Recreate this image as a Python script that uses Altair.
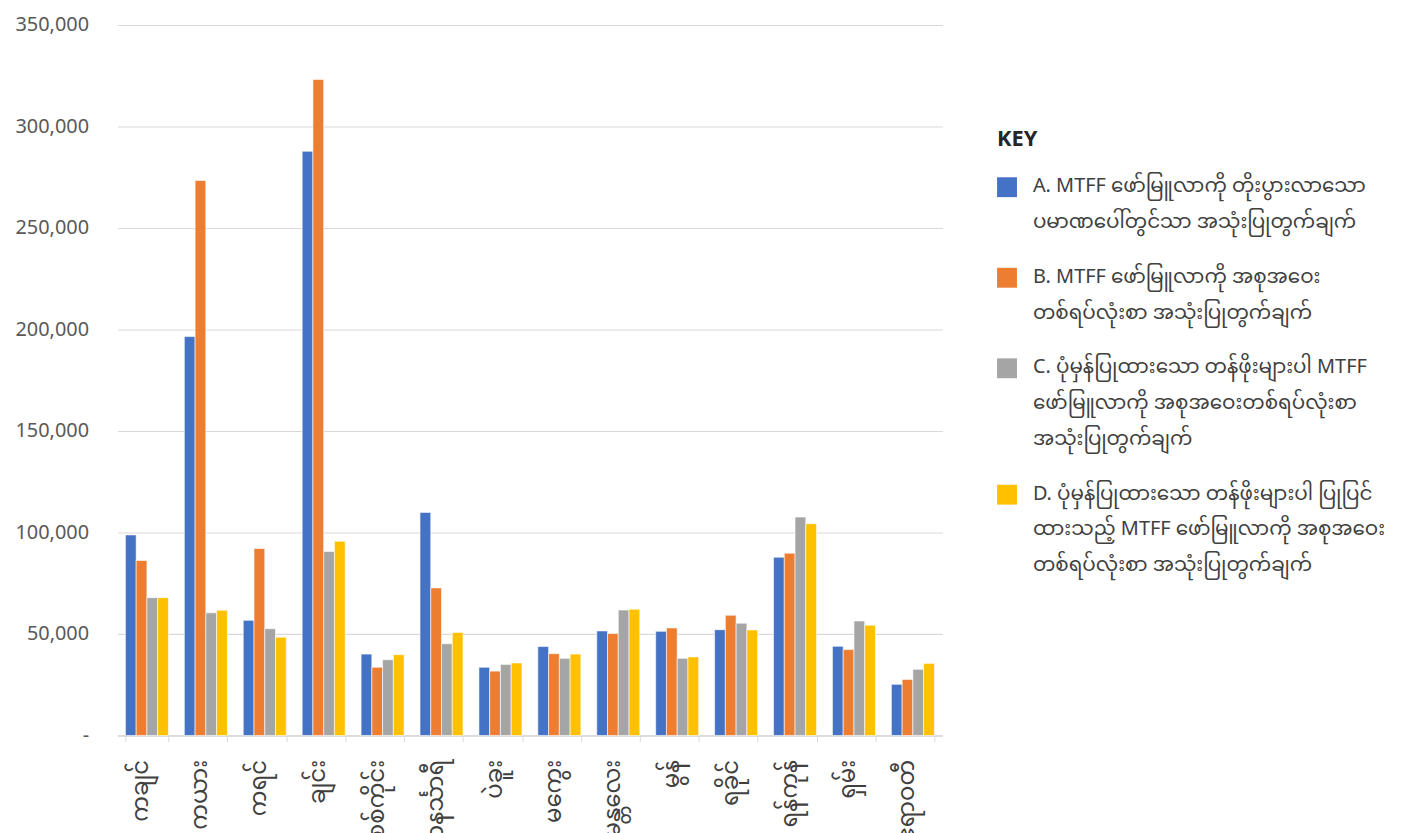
import altair as alt
import pandas as pd

regions = ["ကချင်", "ကယား", "ကရင်", "ချင်း", "စစ်ကိုင်း", "တနင်္သာရီ", "ပဲခူး",
           "မကွေး", "မန္တလေး", "မွန်", "ရခိုင်", "ရန်ကုန်", "ရှမ်း", "ဧရာဝတီ"]

series_keys = ["A", "B", "C", "D"]
series_lines = {
    "A": ["A. MTFF ဖော်မြူလာကို တိုးပွားလာသော", "ပမာဏပေါ်တွင်သာ အသုံးပြုတွက်ချက်"],
    "B": ["B. MTFF ဖော်မြူလာကို အစုအဝေး", "တစ်ရပ်လုံးစာ အသုံးပြုတွက်ချက်"],
    "C": ["C. ပုံမှန်ပြုထားသော တန်ဖိုးများပါ MTFF", "ဖော်မြူလာကို အစုအဝေးတစ်ရပ်လုံးစာ", "အသုံးပြုတွက်ချက်"],
    "D": ["D. ပုံမှန်ပြုထားသော တန်ဖိုးများပါ ပြုပြင်", "ထားသည့် MTFF ဖော်မြူလာကို အစုအဝေး", "တစ်ရပ်လုံးစာ အသုံးပြုတွက်ချက်"],
}
colors = ["#4472C4", "#ED7D31", "#A5A5A5", "#FFC000"]

vals_A = [98800, 196500, 56700, 287800, 40100, 109900, 33600, 43800, 51500, 51300, 52100, 87800, 43900, 25200]
vals_B = [86200, 273400, 92100, 323200, 33600, 72700, 31700, 40300, 50200, 53000, 59200, 89800, 42300, 27600]
vals_C = [67900, 60400, 52600, 90600, 37300, 45200, 35000, 38000, 61800, 38000, 55300, 107600, 56400, 32600]
vals_D = [67900, 61700, 48400, 95700, 39800, 50700, 35700, 40100, 62200, 38700, 52000, 104300, 54300, 35500]

y_ticks = [0, 50000, 100000, 150000, 200000, 250000, 300000, 350000]

rows = []
for key, vals in zip(series_keys, [vals_A, vals_B, vals_C, vals_D]):
    for r, v in zip(regions, vals):
        rows.append({"region": r, "series": key, "value": v})
df = pd.DataFrame(rows)

def js_arr(lines):
    return "[" + ",".join("'" + l + "'" for l in lines) + "]"

label_expr = " : ".join(
    f"datum.label == '{k}' ? {js_arr(series_lines[k])}" for k in series_keys
) + " : datum.label"

FONT = "Segoe UI, Noto Sans Myanmar, Padauk, Myanmar Text, Noto Sans, sans-serif"

chart = alt.Chart(df).mark_bar(stroke="white", strokeWidth=0.6).encode(
    x=alt.X("region:N", sort=regions, title=None,
            scale=alt.Scale(paddingInner=0.27, paddingOuter=0.135),
            axis=alt.Axis(labelAngle=270, labelFontSize=23, labelColor="#404040",
                          labelFont=FONT, labelPadding=18, labelOffset=-6, tickBand="extent",
                          ticks=True, tickSize=6, tickColor="#D9D9D9",
                          domainColor="#D9D9D9", domainWidth=1.5, labelLimit=200,
                          grid=False)),
    xOffset=alt.XOffset("series:N", sort=series_keys, scale=alt.Scale(paddingInner=0, paddingOuter=0)),
    y=alt.Y("value:Q", title=None,
            scale=alt.Scale(domain=[0, 350000], nice=False),
            axis=alt.Axis(values=y_ticks, labelFontSize=20, labelColor="#595959",
                          labelFont=FONT, labelPadding=29, ticks=False, domain=False,
                          gridColor="#D9D9D9", gridWidth=1.2,
                          labelExpr="datum.value == 0 ? '-' : format(datum.value, ',')")),
    color=alt.Color("series:N", sort=series_keys,
                    scale=alt.Scale(domain=series_keys, range=colors),
                    legend=alt.Legend(title="KEY", orient="none", legendX=884, legendY=105,
                                      titleFontSize=22, titleFont=FONT, titleFontWeight="bold",
                                      titleColor="#262626", titlePadding=15,
                                      labelFontSize=20, labelFont=FONT, labelColor="#404040",
                                      labelLimit=450, labelExpr=label_expr,
                                      labelBaseline="top", labelOffset=16,
                                      symbolType="M-1,0.1 H1 V2.1 H-1 Z", symbolSize=400,
                                      symbolStrokeWidth=0, rowPadding=25)),
).properties(
    width=829, height=714,
    autosize=alt.AutoSizeParams(type="none"),
    padding={"left": 110, "top": 15, "right": 470, "bottom": 110},
).configure(style={"guide-label": {"lineHeight": 36}}).configure_view(stroke=None)

chart.save("out.html", embed_options={"renderer": "svg", "actions": False})
